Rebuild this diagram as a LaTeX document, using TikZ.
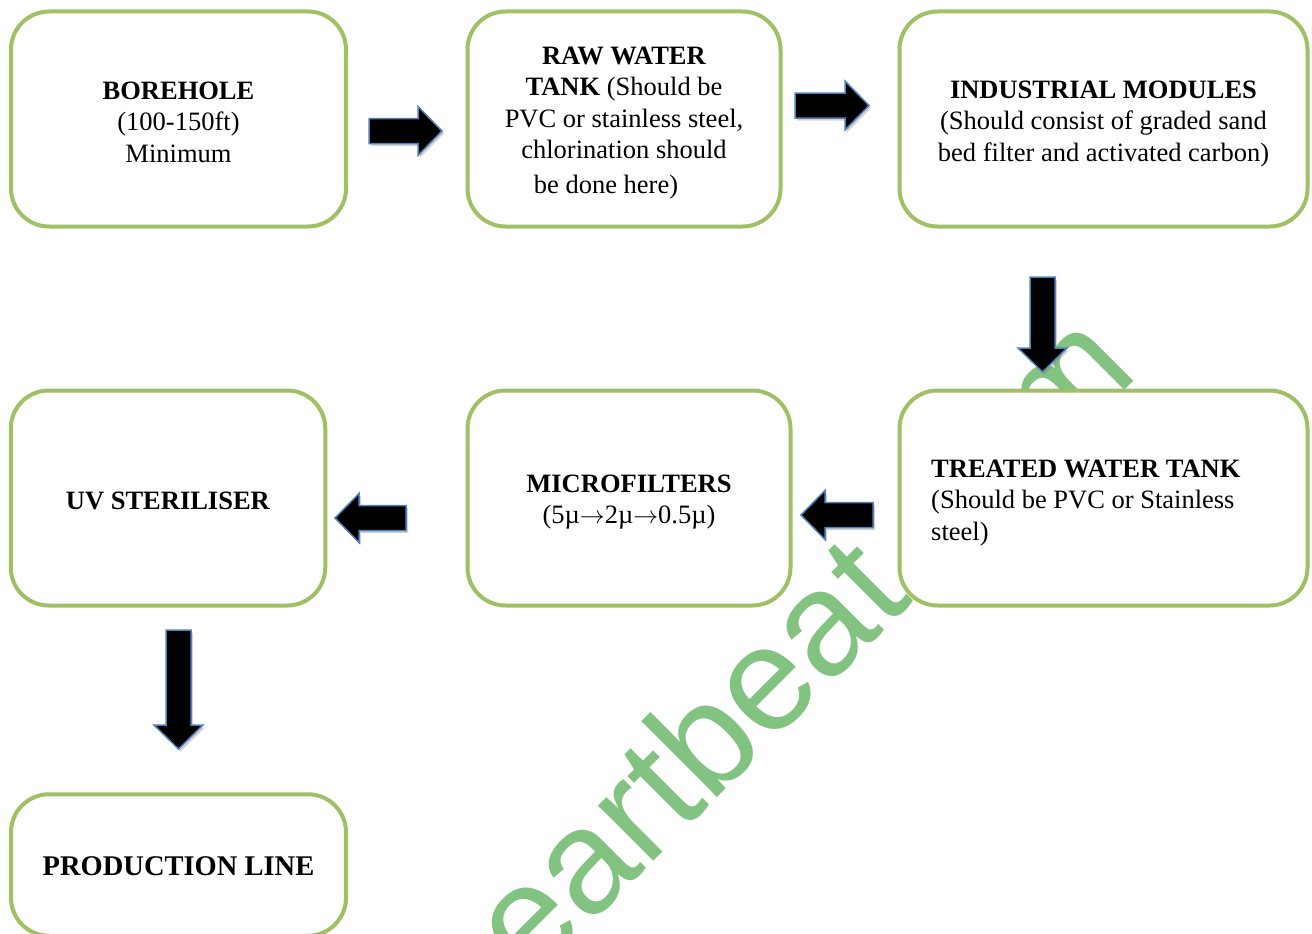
\documentclass[tikz,border=0pt]{standalone}
\usepackage{fontspec}
\setmainfont{Liberation Serif}
\newfontfamily\wmfont{Liberation Sans}
\usetikzlibrary{calc,shadows}
\definecolor{boxgreen}{RGB}{160,192,100}
\definecolor{arrowblue}{RGB}{79,129,189}
\definecolor{wmgreen}{RGB}{130,195,130}
\begin{document}
\begin{tikzpicture}[x=1pt,y=-1pt,
  box/.style={draw=boxgreen, line width=4pt, fill=white, rounded corners=38pt,
    inner sep=0pt},
  txt/.style={inner sep=0pt, align=center, font=\fontsize{26.5}{31.5}\selectfont},
  blockarrow/.style={fill=black, draw=arrowblue, line width=1.5pt, line join=miter,
    drop shadow={opacity=0.35, shadow xshift=2pt, shadow yshift=-2.5pt}},
  pics/barrow/.style={code={
    \path[blockarrow] (0,-12.5) -- (#1-24,-12.5) -- (#1-24,-24.5) -- (#1,0)
      -- (#1-24,24.5) -- (#1-24,12.5) -- (0,12.5) -- cycle;}}
]
\useasboundingbox (0,0) rectangle (1312,934);
\clip (0,0) rectangle (1312,934);
\fill[white] (0,0) rectangle (1312,934);

% watermark (behind the boxes)
\node[font=\wmfont\fontsize{148}{148}\selectfont, text=wmgreen, rotate=45,
  anchor=base west, inner sep=0pt] (wm) at (530,985) {eartbeat.com};

% boxes
\node[box, minimum width=335pt, minimum height=215pt] (bore) at (178.5,119) {};
\node[box, minimum width=313pt, minimum height=215pt] (raw) at (624,119) {};
\node[box, minimum width=408pt, minimum height=215pt] (ind) at (1103.5,119) {};
\node[box, minimum width=408pt, minimum height=215pt] (treat) at (1103.5,498) {};
\node[box, minimum width=323pt, minimum height=215pt] (micro) at (629,498) {};
\node[box, minimum width=314.5pt, minimum height=215pt] (uv) at (168,498) {};
\node[box, minimum width=335pt, minimum height=141.5pt] (prod) at (178.5,865) {};

% texts
\node[txt] (boreT) at ($(bore)+(0,3)$)
  {\textbf{BOREHOLE}\\(100-150ft)\\Minimum};
\node[txt] (rawT) at ($(raw)+(0,4)$)
  {\textbf{RAW WATER}\\\textbf{TANK} (Should be\\PVC or stainless steel,\\chlorination should\\[3pt]be done here)\makebox[36pt]{}};
\node[txt] (indT) at ($(ind)+(0,5)$)
  {\textbf{INDUSTRIAL MODULES}\\(Should consist of graded sand\\bed filter and activated carbon)};
\node[txt, align=left, anchor=west] (treatT) at ($(treat.west)+(33.5,5)$)
  {\textbf{TREATED WATER TANK}\\(Should be PVC or Stainless\\steel)};
\node[txt] (microT) at ($(micro)+(0,4)$)
  {\textbf{MICROFILTERS}\\(5µ$\rightarrow$2µ$\rightarrow$0.5µ)};
\node[txt] (uvT) at ($(uv)+(0,3)$) {\textbf{UV STERILISER}};
\node[txt, font=\fontsize{28.5}{34}\selectfont] (prodT) at ($(prod)+(0,1)$)
  {\textbf{PRODUCTION LINE}};

% block arrows
\pic at ($(bore.east)+(21,12)$) {barrow=73};
\pic at ($(raw.east)+(12.5,-13.5)$) {barrow=74};
\pic[rotate=-90] at ($(ind.south)+(-61,48.5)$) {barrow=95};
\pic[rotate=180] at ($(treat.west)+(-24.5,17)$) {barrow=72};
\pic[rotate=180] at ($(micro.west)+(-59.5,20)$) {barrow=71};
\pic[rotate=-90] at ($(uv.south)+(10.5,22.5)$) {barrow=119};
\end{tikzpicture}
\end{document}
